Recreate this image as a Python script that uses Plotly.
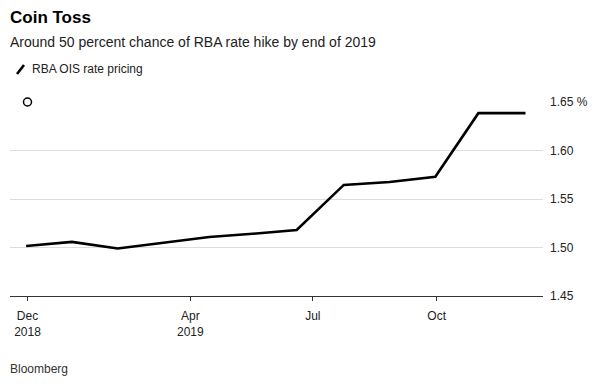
import plotly.graph_objects as go

dates = ["2018-11-30", "2019-01-03", "2019-02-06", "2019-04-15", "2019-05-20",
         "2019-06-19", "2019-07-24", "2019-08-27", "2019-09-30", "2019-11-01", "2019-12-06"]
pricing = [1.5016, 1.5058, 1.4990, 1.5109, 1.5144, 1.5181, 1.5645, 1.5676, 1.5730, 1.6385, 1.6385]

marker_date = ["2018-12-01"]
marker_val = [1.65]

x_tickvals = ["2018-12-01", "2019-04-01", "2019-07-01", "2019-10-01"]
x_ticktext = ["Dec<br>2018", "Apr<br>2019", "Jul", "Oct"]
y_tickvals = [1.45, 1.50, 1.55, 1.60, 1.65]
y_ticktext = ["1.45", "1.50", "1.55", "1.60", "1.65 %"]

FONT = "Liberation Sans, Arial, sans-serif"

fig = go.Figure()
fig.add_trace(go.Scatter(x=dates, y=pricing, mode="lines",
                         line=dict(color="#000000", width=2.6),
                         name="RBA OIS rate pricing", showlegend=False, hoverinfo="skip"))
fig.add_trace(go.Scatter(x=marker_date, y=marker_val, mode="markers",
                         marker=dict(symbol="circle-open", size=8, color="#000000",
                                     line=dict(width=1.5, color="#000000")),
                         showlegend=False, cliponaxis=False, hoverinfo="skip"))

L, R, T, B = 10, 57, 102, 92
W, H = 600, 388
pw, ph = W - L - R, H - T - B

def px(x):
    return (x - L) / pw

def py(y):
    return (H - B - y) / ph

fig.update_layout(
    width=W, height=H,
    margin=dict(l=L, r=R, t=T, b=B, autoexpand=False),
    paper_bgcolor="white", plot_bgcolor="white",
    font=dict(family=FONT, size=12, color="#222222"),
    xaxis=dict(type="date", range=["2018-11-18", "2019-12-19"],
               tickvals=x_tickvals, ticktext=x_ticktext, automargin=False,
               showgrid=False, showline=True, linecolor="#333333", linewidth=1,
               ticks="outside", ticklen=4, tickcolor="#333333", ticklabelstandoff=5,
               tickfont=dict(size=12, color="#222222"), zeroline=False),
    yaxis=dict(range=[1.45, 1.65], side="right", tickvals=y_tickvals, ticktext=y_ticktext,
               showgrid=True, gridcolor="#dddddd", gridwidth=1, zeroline=False,
               ticks="", ticklabelstandoff=6, automargin=False,
               tickfont=dict(size=12, color="#222222")),
    annotations=[
        dict(text="<b>Coin Toss</b>", x=px(8), y=py(17), xref="paper", yref="paper",
             xanchor="left", yanchor="middle", showarrow=False,
             font=dict(size=17, color="#000000", family=FONT)),
        dict(text="Around 50 percent chance of RBA rate hike by end of 2019",
             x=px(8), y=py(42), xref="paper", yref="paper",
             xanchor="left", yanchor="middle", showarrow=False,
             font=dict(size=14, color="#222222", family=FONT)),
        dict(text="RBA OIS rate pricing", x=px(30), y=py(69), xref="paper", yref="paper",
             xanchor="left", yanchor="middle", showarrow=False,
             font=dict(size=12, color="#222222", family=FONT)),
        dict(text="Bloomberg", x=px(8), y=py(369), xref="paper", yref="paper",
             xanchor="left", yanchor="middle", showarrow=False,
             font=dict(size=12, color="#333333", family=FONT)),
    ],
    shapes=[
        dict(type="line", xref="paper", yref="paper",
             x0=px(17), y0=py(74), x1=px(24), y1=py(65),
             line=dict(color="#000000", width=2.6)),
    ],
)

fig.write_html("out.html", config={"displayModeBar": False, "staticPlot": True},
               post_script="document.body.style.margin='0';document.body.style.padding='0';")
